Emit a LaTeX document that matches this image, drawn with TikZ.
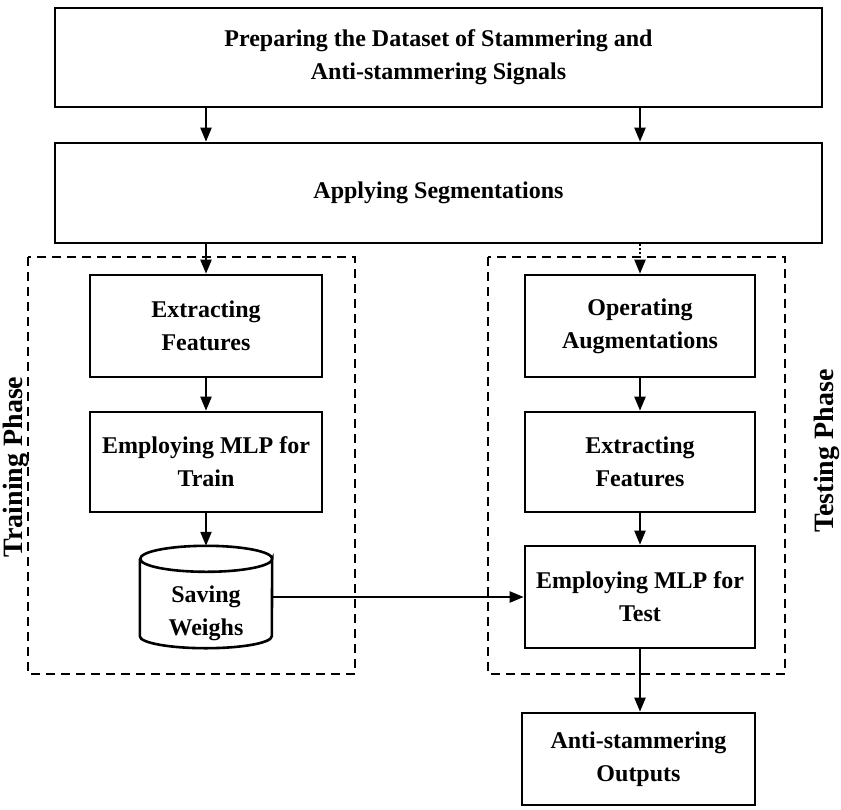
\documentclass[tikz,border=0pt]{standalone}
\usepackage{fontspec}
\setmainfont{Liberation Serif}
\usetikzlibrary{arrows.meta,calc}
\begin{document}
\begin{tikzpicture}[x=1pt,y=-1pt,
  box/.style={draw,line width=2.6pt,align=center,font=\fontsize{24}{33}\selectfont\bfseries,inner sep=0pt},
  phase/.style={draw,line width=2.6pt,dash pattern=on 9pt off 6pt},
  lbl/.style={rotate=90,font=\fontsize{28}{32}\selectfont\bfseries},
  arr/.style={line width=2.2pt,-{Triangle[width=11pt,length=14pt]}},
  txt/.style={align=center,font=\fontsize{24}{33}\selectfont\bfseries,inner sep=0pt}]
\useasboundingbox (0,0) rectangle (841,809);
% main boxes
\node[box,minimum width=767pt,minimum height=99pt] (prep) at (438.5,57.5) {Preparing the Dataset of Stammering and\\Anti-stammering Signals};
\node[box,minimum width=767pt,minimum height=100pt] (seg) at (438.5,193) {Applying Segmentations};
% phase frames
\draw[phase] (28,257) rectangle (355,674);
\draw[phase] (488,257) rectangle (785,674);
\node[lbl] (trainlbl) at (16,467) {Training Phase};
\node[lbl] (testlbl) at (827,451) {Testing Phase};
% left column
\node[box,minimum width=232pt,minimum height=102pt] (ef1) at (206,326) {Extracting\\Features};
\node[box,minimum width=232pt,minimum height=100pt] (train) at (206,462) {Employing MLP for\\Train};
\node[minimum width=132pt,minimum height=102pt,inner sep=0pt] (save) at (206,597) {};
\draw[line width=2.6pt] ($(save.north west)+(0,13)$)
  -- ($(save.south west)+(0,-12)$) arc[start angle=180,end angle=360,x radius=66pt,y radius=12pt]
  -- ($(save.north east)+(0,13)$) arc[start angle=0,end angle=-360,x radius=66pt,y radius=13pt];
\node[txt] (savetxt) at (206,613) {Saving\\Weighs};
% right column
\node[box,minimum width=230pt,minimum height=102pt] (aug) at (640,326) {Operating\\Augmentations};
\node[box,minimum width=230pt,minimum height=100pt] (ef2) at (640,462) {Extracting\\Features};
\node[box,minimum width=230pt,minimum height=102pt] (test) at (640,597) {Employing MLP for\\Test};
\node[box,minimum width=233pt,minimum height=92pt] (out) at (638.5,759) {Anti-stammering\\Outputs};
% connectors
\draw[arr] (prep.south -| ef1) -- (seg.north -| ef1);
\draw[arr] (prep.south -| aug) -- (seg.north -| aug);
\draw[arr] (seg.south -| ef1) -- (ef1.north);
\draw[arr,dash pattern=on 2pt off 2pt] (seg.south -| aug) -- (aug.north);
\draw[arr] (ef1) -- (train);
\draw[arr] (train.south) -- (save.north);
\draw[arr] (aug) -- (ef2);
\draw[arr] (ef2) -- (test);
\draw[arr] (save.east) -- (test.west);
\draw[arr] (test.south) -- (out.north -| test.south);
\end{tikzpicture}
\end{document}
